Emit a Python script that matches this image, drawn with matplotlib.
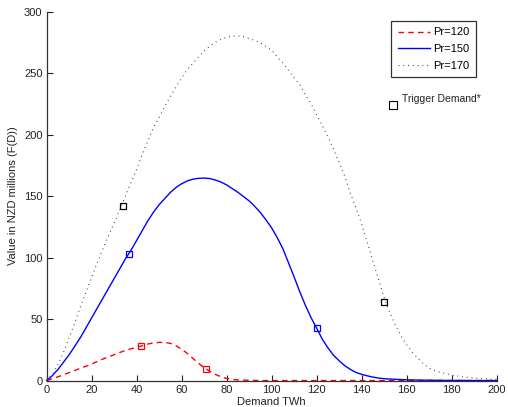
import matplotlib
matplotlib.use("Agg")
import matplotlib.pyplot as plt

plt.rcParams['font.family'] = ['Liberation Sans', 'DejaVu Sans']

demand = [i * 2.5 for i in range(81)]

pr120 = [0, 1.5, 3, 4.7, 6.5, 8.2, 10, 11.7, 13.5, 15.5,
         17.5, 19.3, 21, 22.8, 24.5, 25.8, 27, 28.3, 29.7, 30.6,
         31, 31, 30.2, 28.2, 25.5, 22, 18, 14, 10.5, 7.5,
         5, 3, 1.7, 1, 0.5, 0.3, 0.2, 0.1, 0, 0,
         0, 0, 0, 0, 0, 0, 0, 0, 0, 0,
         0, 0, 0, 0, 0, 0, 0, 0, 0, 0,
         0, 0, 0, 0, 0, 0, 0, 0, 0, 0,
         0, 0, 0, 0, 0, 0, 0, 0, 0, 0, 0]
pr150 = [0, 4, 9, 15, 21, 28, 35, 43, 51, 59,
         67, 75, 83, 91, 99, 106, 114, 122, 130, 137,
         143, 148, 153, 157, 160, 162.3, 163.7, 164.4, 164.6, 164.2,
         163, 161.3, 159, 156, 153, 149.5, 146, 141.5, 136.5, 130.5,
         124, 116, 107, 95.5, 84, 72, 61, 51, 42.5, 33.5,
         26.5, 20.5, 16, 12, 9, 6.5, 5, 3.8, 2.8, 2,
         1.5, 1.2, 1, 0.8, 0.6, 0.5, 0.4, 0.3, 0.3, 0.2,
         0.2, 0.1, 0.1, 0.1, 0.1, 0, 0, 0, 0, 0, 0]
pr170 = [0, 5, 13, 23, 35, 47, 60, 72, 84, 96,
         107, 118, 128, 139, 150, 161, 172, 184, 195, 206,
         214, 223, 231, 239, 246, 253, 258, 263, 268, 272,
         275, 277.5, 279, 280, 280, 279.5, 278, 276.5, 274.5, 271.5,
         268.5, 263, 258, 252, 246, 240.5, 232, 225, 216, 207,
         198, 188, 177, 166, 152, 140, 127, 112, 97, 82,
         67, 55, 45, 36, 29, 23, 18, 13.5, 10, 8,
         6.5, 5.5, 4.5, 3.7, 3, 2.5, 2, 1.7, 1.5, 1.2, 1]

trig120_x = [42, 71]
trig120_y = [28, 9.5]
trig150_x = [36.6, 120]
trig150_y = [103, 42.5]
trig170_x = [33.7, 150]
trig170_y = [142, 64]

xticks = list(range(0, 201, 20))
yticks = list(range(0, 301, 50))

fig = plt.figure(figsize=(5.08, 4.07), dpi=100)
ax = fig.add_axes([0.0919, 0.065, 0.886, 0.9067])

l1, = ax.plot(demand, pr120, color='red', lw=1.0, dashes=(4, 3), label='Pr=120', clip_on=False)
l2, = ax.plot(demand, pr150, color='blue', lw=1.0, label='Pr=150', clip_on=False)
l3, = ax.plot(demand, pr170, color='#333333', lw=0.8, dashes=(0.8, 3.5), label='Pr=170', clip_on=False)

ax.plot(trig120_x, trig120_y, ls='none', marker='s', ms=4.2, mfc='none', mec='red', mew=0.9)
ax.plot(trig150_x, trig150_y, ls='none', marker='s', ms=4.2, mfc='none', mec='blue', mew=0.9)
ax.plot(trig170_x, trig170_y, ls='none', marker='s', ms=4.2, mfc='none', mec='black', mew=0.9)

ax.set_xlim(0, 200)
ax.set_ylim(0, 300)
ax.set_xticks(xticks)
ax.set_yticks(yticks)
ax.tick_params(direction='in', length=4, width=0.8, labelsize=8, colors='#222222', pad=3)
for s in ['top', 'right']:
    ax.spines[s].set_visible(False)
for s in ['left', 'bottom']:
    ax.spines[s].set_color('#333333')
    ax.spines[s].set_linewidth(0.9)

ax.set_xlabel('Demand TWh', fontsize=8, labelpad=1.5, color='#222222')
ax.set_ylabel('Value in NZD millions (F(D))', fontsize=8, labelpad=4, color='#222222')

leg = ax.legend(handles=[l1, l2, l3], loc='upper left', bbox_to_anchor=(0.765, 0.975),
                fontsize=8, frameon=True, fancybox=False, edgecolor='black',
                handlelength=2.9, handletextpad=0.3, borderpad=0.6, labelspacing=0.6,
                borderaxespad=0)
leg.get_frame().set_linewidth(0.9)

ax.plot([154], [224], ls='none', marker='s', ms=6, mfc='none', mec='black', mew=0.8,
        clip_on=False)
ax.text(158, 229, 'Trigger Demand*', fontsize=7.5, va='center', ha='left', color='#222222')

fig.savefig('out.png', dpi=100)
